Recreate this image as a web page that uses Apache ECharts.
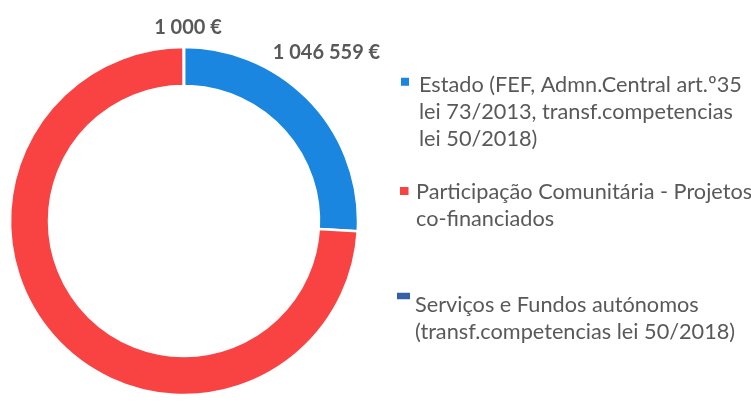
<!DOCTYPE html>
<html><head><meta charset="utf-8">
<script src="https://cdn.jsdelivr.net/npm/echarts@6/dist/echarts.min.js"></script>
<style>html,body{margin:0;padding:0;background:#fff}#c{width:751px;height:418px}</style>
</head><body><div id="c"></div>
<script>
const categories = [
  'Estado (FEF, Admn.Central art.º35\nlei 73/2013, transf.competencias\nlei 50/2018)',
  'Participação Comunitária - Projetos\nco-financiados',
  'Serviços e Fundos autónomos\n(transf.competencias lei 50/2018)'
];
const values = [1046559, 2988470, 1000];
const colors = ['#1a86e0', '#f94343', '#3560a8'];

function fmt(v){ return String(v).replace(/\B(?=(\d{3})+(?!\d))/g, ' ') + ' €'; }

const LH = 26.7;
// legend layout: [left, top, iconBoxW, iconX0, iconY0, iconW, iconH]
const legendLayout = [
  [401, 72, 13, 0, 5.7, 8, 8],
  [400, 179, 11, 0, 8, 8.5, 8],
  [397, 291.5, 13, 0, 1.2, 13, 6.6]
];
function iconPath(i){
  const [l, t, W, x0, y0, w, h] = legendLayout[i];
  const lines = categories[i].split('\n').length;
  const H = lines * LH;
  return {W, H, path: 'path://M0,0h0.01v0.01h-0.01z M' + W + ',' + H + 'h-0.01v-0.01h0.01z M' + x0 + ',' + y0 + 'h' + w + 'v' + h + 'h-' + w + 'z'};
}

const labelPos = [[326.5, 53], [177, 407], [188, 28]];
const chart = echarts.init(document.getElementById('c'));
const legendText = {fontFamily: 'Lato', fontSize: 21.7, color: '#595959', lineHeight: LH};
chart.setOption({
  animation: false,
  legend: categories.map((c, i) => {
    const ic = iconPath(i);
    return {
      data: [c], orient: 'vertical', left: legendLayout[i][0], top: legendLayout[i][1], padding: 0,
      itemWidth: ic.W, itemHeight: ic.H, itemGap: 0, icon: ic.path, symbolKeepAspect: false,
      itemStyle: {borderWidth: 0},
      selectedMode: false, textStyle: legendText
    };
  }),
  series: [{
    type: 'pie', center: [184, 221], radius: [135, 174], startAngle: 90, clockwise: true,
    itemStyle: {borderColor: '#fff', borderWidth: 2.5},
    data: categories.map((c, i) => ({name: c, value: values[i], itemStyle: {color: colors[i]}})),
    label: {show: true, position: 'outside', formatter: p => fmt(p.value),
      fontFamily: 'Lato', fontWeight: 'bold', fontSize: 20, color: '#595959'},
    labelLine: {show: false},
    labelLayout: p => ({x: labelPos[p.dataIndex][0], y: labelPos[p.dataIndex][1], align: 'center', verticalAlign: 'middle'})
  }]
});
</script></body></html>
